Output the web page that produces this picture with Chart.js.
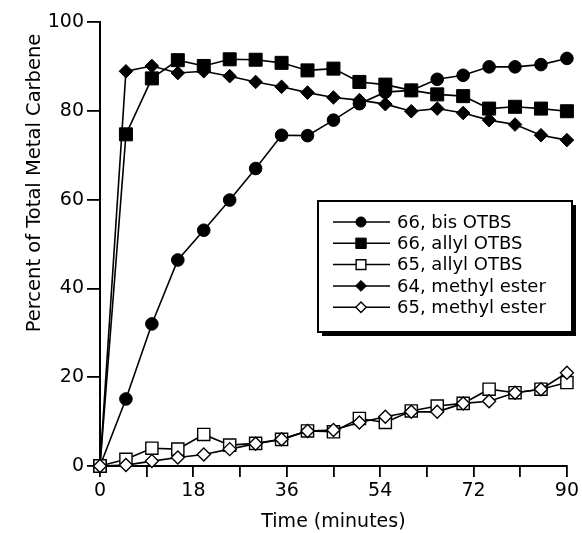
<!DOCTYPE html>
<html>
<head>
<meta charset="utf-8">
<script src="https://cdn.jsdelivr.net/npm/chart.js@4/dist/chart.umd.min.js"></script>
<style>
  html, body { margin: 0; padding: 0; background: #fff; }
  #wrap { width: 582px; height: 533px; }
</style>
</head>
<body>
<div id="wrap"><canvas id="carbeneChart" width="582" height="533"></canvas></div>
<script>
// values (minutes vs percent)
const times = [0, 5, 10, 15, 20, 25, 30, 35, 40, 45, 50, 55, 60, 65, 70, 75, 80, 85, 90];
const bisOTBS66 = [0, 15.1, 32, 46.4, 53.1, 59.9, 67, 74.5, 74.4, 77.9, 81.6, 84.2, 84.6, 87.1, 88, 89.9, 89.9, 90.4, 91.8];
const allylOTBS66 = [0, 74.7, 87.3, 91.4, 90.1, 91.6, 91.5, 90.8, 89.1, 89.5, 86.5, 85.9, 84.6, 83.7, 83.3, 80.5, 80.9, 80.5, 79.9];
const allylOTBS65 = [0, 1.5, 4.0, 3.8, 7.1, 4.7, 5.1, 6.0, 7.9, 7.7, 10.7, 9.8, 12.4, 13.5, 14.1, 17.3, 16.5, 17.3, 18.8];
const methylEster64 = [0, 88.9, 90.1, 88.5, 88.9, 87.8, 86.5, 85.4, 84.1, 83.0, 82.4, 81.5, 79.9, 80.5, 79.5, 77.9, 76.9, 74.5, 73.4];
const methylEster65 = [0, 0.2, 1.1, 1.9, 2.6, 3.8, 5.0, 6.0, 7.9, 8.1, 9.8, 11.1, 12.2, 12.2, 14.1, 14.6, 16.5, 17.3, 21.0];

const seriesLabels = ['66, bis OTBS', '66, allyl OTBS', '65, allyl OTBS', '64, methyl ester', '65, methyl ester'];
const xTicks = [0, 18, 36, 54, 72, 90];
const yTicks = [0, 20, 40, 60, 80, 100];

const FONT = 'DejaVu Sans';

function pts(values) {
    return times.map((t, i) => ({ x: t, y: values[i] }));
}

function series(label, values, style, radius, filled, order) {
    return {
        label: label,
        data: pts(values),
        order: order,
        borderColor: '#000',
        borderWidth: 1.6,
        pointStyle: style,
        pointRadius: radius,
        pointHoverRadius: radius,
        pointBorderColor: '#000',
        pointBorderWidth: filled ? 1 : 1.4,
        pointBackgroundColor: filled ? '#000' : '#fff',
        tension: 0,
        fill: false,
        clip: false,
        legendRadius: radius * 0.8
    };
}

function drawMarker(ctx, ds, x, y) {
    const r = ds.legendRadius;
    ctx.beginPath();
    if (ds.pointStyle === 'circle') {
        ctx.arc(x, y, r, 0, Math.PI * 2);
    } else if (ds.pointStyle === 'rect') {
        const s = r * Math.SQRT1_2;
        ctx.rect(x - s, y - s, 2 * s, 2 * s);
    } else {
        ctx.moveTo(x - r, y);
        ctx.lineTo(x, y - r);
        ctx.lineTo(x + r, y);
        ctx.lineTo(x, y + r);
        ctx.closePath();
    }
    ctx.fillStyle = ds.pointBackgroundColor;
    ctx.fill();
    ctx.lineWidth = ds.pointBorderWidth;
    ctx.strokeStyle = '#000';
    ctx.stroke();
}

// boxed legend inside the plot + rotated y title
const figureExtras = {
    id: 'figureExtras',
    afterDraw(chart) {
        const ctx = chart.ctx;
        const area = chart.chartArea;
        ctx.save();

        // y axis title, sits above centre like the original
        ctx.translate(35, area.top + 161);
        ctx.rotate(-Math.PI / 2);
        ctx.font = '19.5px "' + FONT + '"';
        ctx.fillStyle = '#000';
        ctx.textAlign = 'center';
        ctx.textBaseline = 'middle';
        ctx.fillText('Percent of Total Metal Carbene', 0, 0);
        ctx.restore();

        ctx.save();
        const bx = area.left + 218, by = area.top + 179, bw = 254, bh = 131;
        ctx.fillStyle = '#000';
        ctx.fillRect(bx + 4, by + 4, bw, bh);
        ctx.fillStyle = '#fff';
        ctx.fillRect(bx, by, bw, bh);
        ctx.lineWidth = 2;
        ctx.strokeStyle = '#000';
        ctx.strokeRect(bx, by, bw, bh);

        ctx.font = '18px "' + FONT + '"';
        ctx.textAlign = 'left';
        ctx.textBaseline = 'middle';
        // draw in dataset order (legend order), not draw order
        chart.data.datasets.forEach((ds, i) => {
            const y = by + 21 + i * 21.3;
            ctx.beginPath();
            ctx.moveTo(bx + 15, y);
            ctx.lineTo(bx + 72, y);
            ctx.lineWidth = 1.5;
            ctx.strokeStyle = '#000';
            ctx.stroke();
            drawMarker(ctx, ds, bx + 43, y);
            ctx.fillStyle = '#000';
            ctx.fillText(ds.label, bx + 79, y + 1);
        });
        ctx.restore();
    }
};

document.addEventListener('DOMContentLoaded', function () {
    const ctx = document.getElementById('carbeneChart').getContext('2d');
    new Chart(ctx, {
        type: 'line',
        data: {
            datasets: [
                series(seriesLabels[0], bisOTBS66, 'circle', 6.3, true, 4),
                series(seriesLabels[1], allylOTBS66, 'rect', 9.2, true, 3),
                series(seriesLabels[2], allylOTBS65, 'rect', 8.6, false, 1),
                series(seriesLabels[3], methylEster64, 'rectRot', 6.8, true, 2),
                series(seriesLabels[4], methylEster65, 'rectRot', 6.5, false, 0)
            ]
        },
        options: {
            responsive: false,
            animation: false,
            devicePixelRatio: 1,
            layout: { padding: { top: 22, right: 14, left: 0, bottom: 0 } },
            plugins: {
                legend: { display: false },
                tooltip: { enabled: false }
            },
            scales: {
                x: {
                    type: 'linear',
                    min: 0,
                    max: 90,
                    afterFit: (scale) => { scale.height = 67; },
                    afterBuildTicks: (scale) => {
                        const t = [];
                        for (let v = 0; v <= 90; v += 9) t.push({ value: v });
                        scale.ticks = t;
                    },
                    ticks: {
                        autoSkip: false,
                        maxRotation: 0,
                        padding: 3,
                        color: '#000',
                        font: { family: FONT, size: 19 },
                        callback: (v) => xTicks.includes(v) ? String(v) : ''
                    },
                    grid: { drawOnChartArea: false, drawTicks: true, tickLength: 11, color: '#000', lineWidth: 1.8 },
                    border: { display: true, color: '#000', width: 2 },
                    title: {
                        display: true,
                        text: 'Time (minutes)',
                        color: '#000',
                        font: { family: FONT, size: 19 },
                        padding: { top: 0, bottom: 0 }
                    }
                },
                y: {
                    min: 0,
                    max: 100,
                    afterFit: (scale) => { scale.width = 100; },
                    afterBuildTicks: (scale) => {
                        scale.ticks = yTicks.map(v => ({ value: v }));
                    },
                    ticks: {
                        padding: 3,
                        color: '#000',
                        font: { family: FONT, size: 19 }
                    },
                    grid: { drawOnChartArea: false, drawTicks: true, tickLength: 13, color: '#000', lineWidth: 1.8 },
                    border: { display: true, color: '#000', width: 2 }
                }
            }
        },
        plugins: [figureExtras]
    });
});
</script>
</body>
</html>
